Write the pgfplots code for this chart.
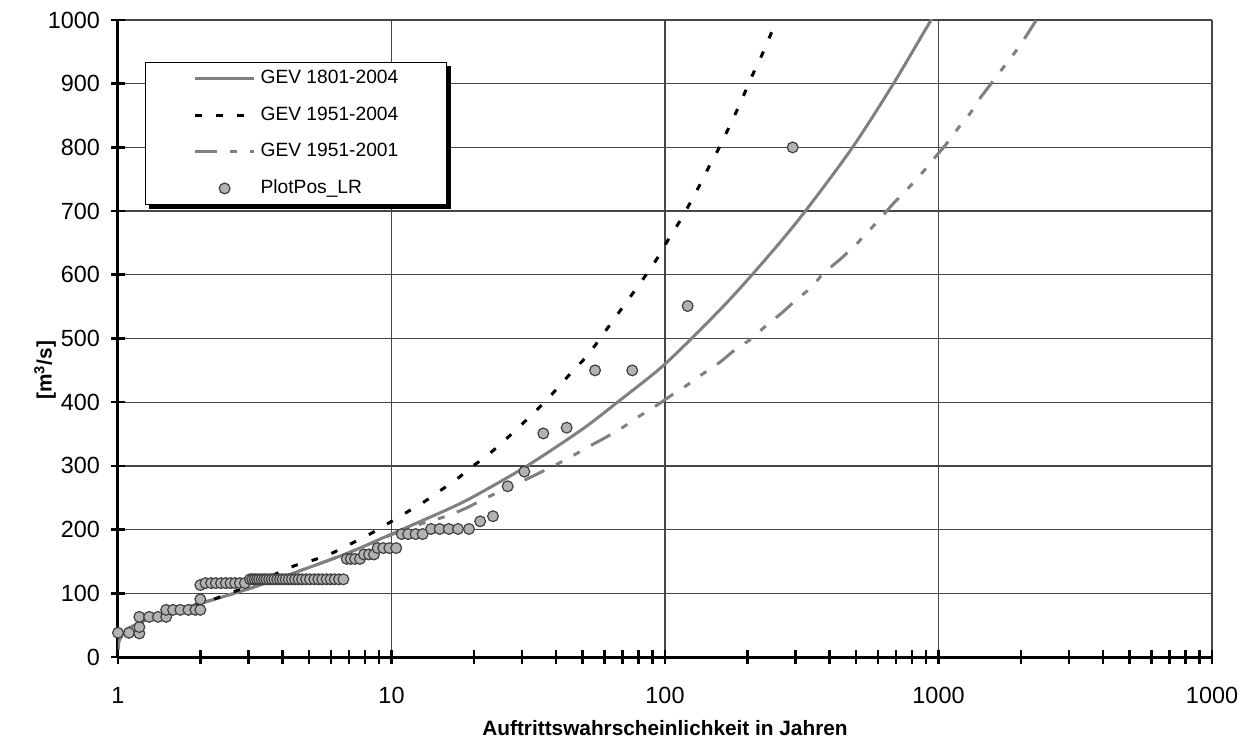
\documentclass[border=0pt]{standalone}
\usepackage{fontspec}
\setmainfont{Liberation Sans}
\usepackage{pgfplots}
\pgfplotsset{compat=1.18}
\definecolor{curvegray}{RGB}{128,128,128}
\definecolor{markfill}{RGB}{178,178,178}
\definecolor{markedge}{RGB}{64,64,64}
\definecolor{gridc}{RGB}{70,70,70}

\pgfplotsset{
  lineleg/.style={legend image code/.code={\draw[##1, line cap=butt] (0bp,0bp) -- (29.5bp,0bp);}},
  markleg/.style={legend image code/.code={\path[draw=none] (0bp,0bp) -- (29.5bp,0bp); \draw[##1] plot coordinates {(14.75bp,0bp)};}},
}

\pgfplotstableread{
x y
1.002 12
1.01 25
1.05 38
1.1 46
1.3 60
1.6 72
2.11 87
3 107
4.6 135
7 164
10 193
15.9 231
20 252
31.3 300
50 358
67 400
95.9 453
127 503
168 556
210 602
267 654
330 703
483 799
682 899
940 1000
1000 1015
}\gevA

\pgfplotstableread{
x y
1.6 72
2.11 87
2.75 105
3.5 124
4.4 143
5.25 153
6.13 164
7.16 178.5
8.34 193
9.66 209
11.2 225.6
13 242
15 260.6
17.3 279
19.6 298
22.5 317
25.6 338
29.1 360
33 382.6
37.2 405
41.9 429.6
46.6 451.6
52.8 476.7
65 530
76 570
86.9 605
95.3 631
104 659
114 686
124 714
134 741
145 770
156.7 797
169 826
181 853
194.5 883
208 912
224 941
240 971
256 1000
272 1030
}\gevB

\pgfplotstableread{
x y
1.6 72
2.11 87
3 107
4.6 135
7 164
10 192
12 205
14 214
16.1 222
18.8 234
22 249
25.3 261
29.1 273
34 287
39.6 301
45.6 315
52.5 330
60.3 344
70.4 361
79.9 377
93.2 395
105.7 411
123.4 430
138 445
159 463
180 482
207.5 500
234 520
267 540
299 559
344 581
379 602
436 624
487 643
524 657
620 691
684 712
764 733
867 759
957 781
1071 806
1164 827
1303 853
1418 877
1563 901
1737 927
1932 953
2100 976
2317 1005
}\gevC

\pgfplotstableread{
x y
1.0 38
1.097 38
1.197 37
1.197 47
1.197 63
1.30 63
1.40 63
1.50 63
1.50 74
1.59 74
1.69 74
1.81 74
1.92 74
2.0 74
2.0 90.5
2.0 113
2.09 116
2.19 116
2.28 116
2.38 116
2.48 116
2.58 116
2.68 116
2.79 116
2.91 116
3.04 122
3.10 122
3.16 122
3.22 122
3.28 122
3.35 122
3.42 122
3.49 122
3.57 122
3.65 122
3.73 122
3.82 122
3.91 122
4.00 122
4.10 122
4.21 122
4.32 122
4.44 122
4.57 122
4.71 122
4.87 122
5.03 122
5.22 122
5.40 122
5.58 122
5.79 122
5.99 122
6.20 122
6.43 122
6.67 122
6.86 154
7.10 154
7.36 154
7.67 154
7.93 161
8.27 161
8.63 161
8.90 171
9.33 171
9.82 171
10.4 171
10.9 193
11.5 193
12.25 193
13.0 193
13.95 201
15.0 201
16.2 201
17.5 201
19.2 201
21.1 213
23.5 221
26.6 268
30.6 291
35.9 351
43.7 360
55.5 450
75.9 450
121 551
293 800
}\plotpos

\begin{document}
\begin{tikzpicture}
\useasboundingbox (-59bp,-41.5bp) rectangle (561bp,328.5bp);
\begin{axis}[
  scale only axis, width=547bp, height=318.5bp,
  at={(0,0)}, anchor=south west,
  xmode=log, xmin=1, xmax=10000, ymin=0, ymax=1000,
  axis x line*=bottom, axis y line*=left,
  axis line style={-, line width=1.5bp, black},
  xtick={1,10,100,1000,10000}, xticklabels={1,10,100,1000,1000},
  minor xtick={2,3,4,5,6,7,8,9,20,30,40,50,60,70,80,90,200,300,400,500,600,700,800,900,2000,3000,4000,5000,6000,7000,8000,9000},
  ytick={0,100,...,1000},
  grid=major, major grid style={gridc, line width=0.6bp},
  minor grid style={draw=none},
  tick align=center,
  major tick length=7bp, minor tick length=7bp,
  tick style={black, line width=1.3bp},
  ticklabel style={font=\fontsize{11.7bp}{14bp}\selectfont},
  xticklabel style={yshift=-8bp},
  yticklabel style={xshift=-2bp},
  /pgf/number format/assume math mode=true,
  /pgf/number format/1000 sep={},
  every axis x label/.style={at={(axis description cs:0.5,0)}, anchor=center, yshift=-35.5bp},
  every axis y label/.style={at={(axis description cs:-0.0667,0.45)}, rotate=90, anchor=center},
  xlabel={\fontsize{10.4bp}{12bp}\selectfont\bfseries Auftrittswahrscheinlichkeit in Jahren},
  ylabel={\fontsize{10.4bp}{12bp}\selectfont\bfseries [m\textsuperscript{3}/s]},
  legend style={
    name=leg,
    at={(axis description cs:0.0247,0.934)}, anchor=north west,
    draw=black, line width=0.6bp, fill=white,
    inner xsep=24bp, inner ysep=3.5bp,
    row sep=9.3bp, column sep=2.5bp,
    font=\fontsize{9.6bp}{11bp}\selectfont,
    nodes={inner sep=0pt, text height=7bp, text depth=2bp},
  },
  legend cell align=left,
]
\addplot[curvegray, line width=1.5bp, no marks, smooth, lineleg]
  table {\gevA};
\addlegendentry{GEV 1801-2004}
\addplot[black, line width=1.5bp, no marks, smooth, dash pattern=on 3.3bp off 7.2bp, lineleg]
  table {\gevB};
\addlegendentry{GEV 1951-2004}
\addplot[curvegray, line width=1.5bp, no marks, smooth,
  dash pattern=on 11bp off 6.5bp on 3.5bp off 6.5bp on 3.5bp off 6.5bp, lineleg]
  table {\gevC};
\addlegendentry{GEV 1951-2001}
\addplot[only marks, mark=*, mark size=2.7bp,
  mark options={fill=markfill, draw=markedge, line width=0.6bp, solid}, markleg]
  table {\plotpos};
\addlegendentry{PlotPos\_LR}
\end{axis}
\fill[black] ([xshift=1.8bp,yshift=-1.8bp]leg.south west) rectangle ([xshift=1.8bp]leg.south east);
\fill[black] ([yshift=-1.8bp]leg.south east) rectangle ([xshift=1.8bp,yshift=-1.8bp]leg.north east);
\end{tikzpicture}
\end{document}
